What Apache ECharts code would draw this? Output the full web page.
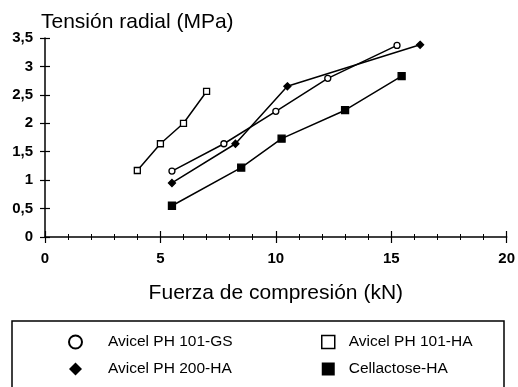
<!DOCTYPE html>
<html>
<head>
<meta charset="utf-8">
<script src="https://cdn.jsdelivr.net/npm/echarts@6/dist/echarts.min.js"></script>
<style>
  html, body { margin: 0; padding: 0; background: #fff; }
  #chart { width: 518px; height: 387px; }
</style>
</head>
<body>
<div id="chart"></div>
<script>
const FONT = "Liberation Sans"

// Avicel PH 101-GS (open circles)
const gsX = [5.5, 7.75, 10.0, 12.25, 15.25]
const gsY = [1.16, 1.64, 2.21, 2.79, 3.37]
// Avicel PH 101-HA (open squares)
const ha101X = [4.0, 5.0, 6.0, 7.0]
const ha101Y = [1.17, 1.64, 2.0, 2.56]
// Avicel PH 200-HA (diamonds)
const ha200X = [5.5, 8.25, 10.5, 16.25]
const ha200Y = [0.95, 1.64, 2.65, 3.38]
// Cellactose-HA (filled squares)
const cellX = [5.5, 8.5, 10.25, 13.0, 15.45]
const cellY = [0.55, 1.22, 1.73, 2.23, 2.83]

const names = ["Avicel PH 101-GS", "Avicel PH 101-HA", "Avicel PH 200-HA", "Cellactose-HA"]

const pairs = (xs, ys) => xs.map((x, i) => [x, ys[i]])

const chart = echarts.init(document.getElementById("chart"))

const lineSeries = (name, data, symbol, size, filled) => ({
  name,
  type: "line",
  data,
  symbol,
  symbolSize: size,
  xAxisIndex: 0,
  yAxisIndex: 0,
  lineStyle: { color: "#000", width: 1.5 },
  itemStyle: {
    color: filled ? "#000" : "#fff",
    borderColor: "#000",
    borderWidth: 1.3,
  },
  z: filled ? 3 : 4,
})

const tickLabel = { fontSize: 15, color: "#000", fontFamily: FONT, fontWeight: "bold" }

chart.setOption({
  animation: false,
  textStyle: { fontFamily: FONT, color: "#000" },
  grid: { left: 45, right: 10, top: 38, bottom: 150, containLabel: false },
  xAxis: [
    {
      type: "value",
      min: 0,
      max: 20,
      interval: 5,
      position: "bottom",
      name: "Fuerza de compresión (kN)",
      nameLocation: "middle",
      nameGap: 46,
      nameTextStyle: { fontSize: 21, color: "#000", fontFamily: FONT },
      axisLine: { lineStyle: { color: "#000", width: 1.5 } },
      axisTick: { length: 6, lineStyle: { color: "#000", width: 1.2 } },
      minorTick: { show: true, splitNumber: 5, length: 3, lineStyle: { color: "#000", width: 1 } },
      axisLabel: { ...tickLabel, margin: 14 },
      splitLine: { show: false },
    },
    {
      type: "value",
      min: 0,
      max: 20,
      interval: 5,
      position: "bottom",
      axisLine: { show: false },
      axisTick: { inside: true, length: 6, lineStyle: { color: "#000", width: 1.2 } },
      minorTick: { show: true, splitNumber: 5, length: 3, lineStyle: { color: "#000", width: 1 } },
      axisLabel: { show: false },
      splitLine: { show: false },
    },
  ],
  yAxis: [
    {
      type: "value",
      min: 0,
      max: 3.5,
      interval: 0.5,
      position: "left",
      name: "Tensión radial (MPa)",
      nameLocation: "end",
      nameGap: 5,
      nameTextStyle: { fontSize: 21, color: "#000", align: "left", padding: [0, 0, 0, -4], fontFamily: FONT },
      axisLine: { show: true, lineStyle: { color: "#000", width: 1.5 } },
      axisTick: { show: true, length: 5, lineStyle: { color: "#000", width: 1.2 } },
      axisLabel: {
        ...tickLabel,
        margin: 12,
        formatter: (v) => String(v).replace(".", ","),
      },
      splitLine: { show: false },
    },
    {
      type: "value",
      min: 0,
      max: 3.5,
      interval: 0.5,
      position: "left",
      axisLine: { show: false },
      axisTick: { show: true, inside: true, length: 5, lineStyle: { color: "#000", width: 1.2 } },
      axisLabel: { show: false },
      splitLine: { show: false },
    },
  ],
  legend: [
    {
      orient: "vertical",
      left: 68,
      top: 334,
      padding: 0,
      itemWidth: 13,
      itemHeight: 13,
      itemGap: 11,
      textStyle: { fontSize: 15.5, color: "#000", fontFamily: FONT, padding: [0, 0, 0, 21] },
      data: [
        { name: names[0], icon: "circle", itemStyle: { color: "#fff", borderColor: "#000", borderWidth: 2 } },
        { name: names[2], icon: "diamond", itemStyle: { color: "#000", borderColor: "#000", borderWidth: 0 } },
      ],
    },
    {
      orient: "vertical",
      left: 321,
      top: 334,
      padding: 0,
      itemWidth: 13,
      itemHeight: 13,
      itemGap: 11,
      textStyle: { fontSize: 15.5, color: "#000", fontFamily: FONT, padding: [0, 0, 0, 9] },
      data: [
        { name: names[1], icon: "rect", itemStyle: { color: "#fff", borderColor: "#000", borderWidth: 1.5 } },
        { name: names[3], icon: "rect", itemStyle: { color: "#000", borderColor: "#000", borderWidth: 0 } },
      ],
    },
  ],
  graphic: [
    {
      type: "rect",
      shape: { x: 12, y: 321, width: 492, height: 70 },
      style: { fill: "none", stroke: "#000", lineWidth: 1.5 },
      silent: true,
    },
  ],
  series: [
    lineSeries(names[0], pairs(gsX, gsY), "circle", 6, false),
    lineSeries(names[1], pairs(ha101X, ha101Y), "rect", 6, false),
    lineSeries(names[2], pairs(ha200X, ha200Y), "diamond", 7, true),
    lineSeries(names[3], pairs(cellX, cellY), "rect", 7, true),
  ],
})
</script>
</body>
</html>
